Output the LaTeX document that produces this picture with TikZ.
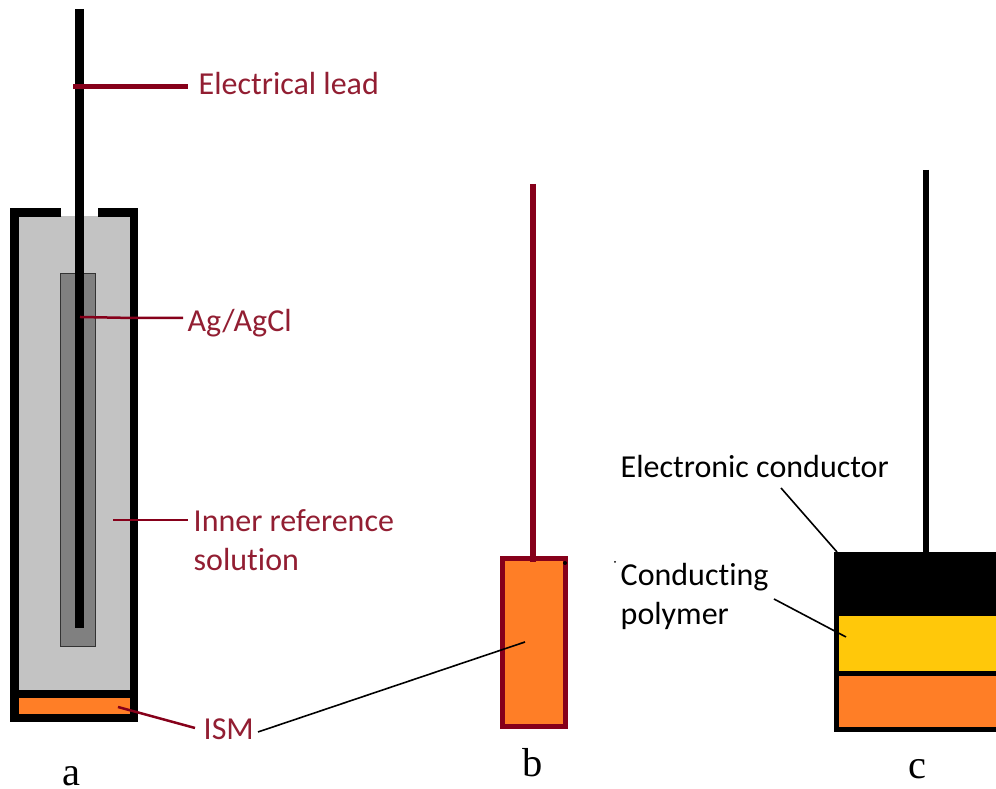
\documentclass[tikz,border=0pt]{standalone}
\usepackage{fontspec}
\setmainfont[Ligatures=NoCommon]{Carlito}
\newfontfamily\capfont{Liberation Serif}
\definecolor{leadred}{RGB}{134,0,26}
\definecolor{labelred}{RGB}{146,30,50}
\definecolor{ismorange}{RGB}{255,126,38}
\definecolor{polyyellow}{RGB}{255,200,10}
\definecolor{solgray}{RGB}{195,195,195}
\definecolor{aggray}{RGB}{128,128,128}
\tikzset{
  redlabel/.style={text=labelred,font=\fontsize{9.1pt}{11.1pt}\selectfont,inner sep=0pt,align=left},
  blacklabel/.style={text=black,font=\fontsize{9.1pt}{11.1pt}\selectfont,inner sep=0pt,align=left},
  caplabel/.style={font=\capfont\fontsize{11.5pt}{12pt}\selectfont,inner sep=0pt},
  redline/.style={draw=leadred,line width=0.25mm},
  blackline/.style={draw=black,line width=0.16mm},
}
\begin{document}
\begin{tikzpicture}[x=0.01cm,y=-0.01cm]
    \useasboundingbox (0,0) rectangle (996,789);

    % a
    \fill[solgray] (18,216) rectangle (130,690);
    \fill[black] (10,690) rectangle (138,698);
    \fill[ismorange] (18,698) rectangle (130,714);
    \draw[line width=0.85mm] (61,212.3) -- (14.3,212.3) -- (14.3,717.8) -- (134.2,717.8) -- (134.2,212.3) -- (97.6,212.3);
    \draw[fill=aggray,line width=0.15mm,draw=black!80] (60.5,273.5) rectangle (95.5,646.5);
    \draw[line width=0.9mm] (79.5,9) -- (79.5,628);
    \node[redlabel,anchor=base west] (leadlabel) at (198,95) {Electrical lead};
    \node[redlabel,anchor=base west] (aglabel) at (187,331.5) {Ag/AgCl};
    \node[redlabel,anchor=base west] (sollabel) at (193,531.5) {Inner reference};
    \node[redlabel,anchor=base west] (sollabeltwo) at (193,570.5) {solution};
    \node[redlabel,anchor=base west] (ismlabel) at (203,740) {ISM};
    \coordinate (leadpt) at (73,87);
    \coordinate (leadend) at (188,87);
    \coordinate (agpt) at (80,317);
    \coordinate (agbend) at (133,318);
    \coordinate (agend) at (183,318);
    \coordinate (solpt) at (113,520);
    \coordinate (solend) at (188,520);
    \coordinate (ismpt) at (118,707);
    \coordinate (ismend) at (195,728);
    \draw[draw=leadred,line width=0.5mm] (leadpt) -- (leadend);
    \draw[redline] (agpt) -- (agbend) -- (agend);
    \draw[redline] (solpt) -- (solend);
    \draw[redline] (ismpt) -- (ismend);
    \node[caplabel] (capa) at (71,776) {a};

    % b
    \draw[fill=ismorange,draw=leadred,line width=0.5mm] (502.3,558.5) rectangle (565.5,726.5);
    \draw[draw=leadred,line width=0.55mm] (533,184) -- (533,562);
    \coordinate (ismb) at (525,642);
    \coordinate (ismstart) at (258,732);
    \draw[blackline] (ismstart) -- (ismb);
    \fill (565,563) circle (2);
    \fill (615,562) circle (1);
    \node[caplabel] (capb) at (533,763) {b};

    % c
    \fill[black] (834,552) rectangle (996,732);
    \fill[polyyellow] (839,616) rectangle (996,671);
    \fill[ismorange] (839,676) rectangle (996,727);
    \draw[line width=0.55mm] (926,170) -- (926,552);
    \node[blacklabel,anchor=base west] (condlabel) at (620,478) {Electronic conductor};
    \node[blacklabel,anchor=base west] (polylabel) at (620,586) {Conducting};
    \node[blacklabel,anchor=base west] (polylabeltwo) at (620,625) {polymer};
    \coordinate (condstart) at (781,488);
    \coordinate (condpt) at (837,552);
    \coordinate (polystart) at (774,599);
    \coordinate (polypt) at (846,637);
    \draw[blackline] (condstart) -- (condpt);
    \draw[blackline] (polystart) -- (polypt);
    \node[caplabel] (capc) at (917.5,769) {c};
  \end{tikzpicture}
\end{document}
